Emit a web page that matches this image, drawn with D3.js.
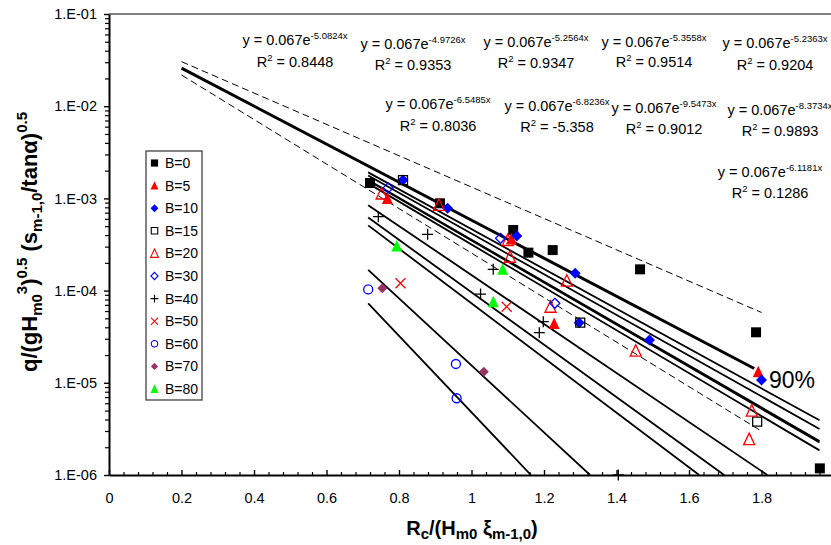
<!DOCTYPE html>
<html><head><meta charset="utf-8">
<script src="https://cdn.jsdelivr.net/npm/d3@7"></script>
<style>
body{margin:0;background:#fff}
svg{display:block}
text{font-family:Arial,"Liberation Sans",sans-serif;fill:#000}
</style>
</head><body>
<svg id="chart" width="831" height="545"></svg>
<script>
// ---------- data ----------
const xTickValues = [0, 0.2, 0.4, 0.6, 0.8, 1, 1.2, 1.4, 1.6, 1.8];
const xTickLabels = ["0", "0.2", "0.4", "0.6", "0.8", "1", "1.2", "1.4", "1.6", "1.8"];
const yTickValues = [1e-1, 1e-2, 1e-3, 1e-4, 1e-5, 1e-6];
const yTickLabels = ["1.E-01", "1.E-02", "1.E-03", "1.E-04", "1.E-05", "1.E-06"];

const seriesNames = ["B=0", "B=5", "B=10", "B=15", "B=20", "B=30", "B=40", "B=50", "B=60", "B=70", "B=80"];

const b0  = [[0.720,1.47e-3],[0.913,8.85e-4],[1.115,4.54e-4],[1.157,2.58e-4],[1.224,2.75e-4],[1.465,1.70e-4],[1.785,3.53e-5],[1.961,1.18e-6]];
const b5  = [[0.768,1.00e-3],[1.110,3.63e-4],[1.228,4.41e-5],[1.791,1.32e-5]];
const b10 = [[0.811,1.58e-3],[0.934,7.80e-4],[1.125,3.90e-4],[1.286,1.54e-4],[1.297,4.49e-5],[1.491,2.91e-5],[1.800,1.07e-5]];
const b15 = [[0.811,1.58e-3],[1.300,4.50e-5],[1.788,3.79e-6]];
const b20 = [[0.752,1.13e-3],[0.910,8.50e-4],[1.100,3.54e-4],[1.106,2.33e-4],[1.263,1.28e-4],[1.218,6.68e-5],[1.453,2.23e-5],[1.773,4.99e-6],[1.766,2.45e-6]];
const b30 = [[0.770,1.30e-3],[1.080,3.69e-4],[1.230,7.28e-5]];
const b40 = [[0.743,6.33e-4],[0.879,4.08e-4],[1.060,1.70e-4],[1.025,9.18e-5],[1.198,4.60e-5],[1.187,3.50e-5],[1.405,1.00e-6]];
const b50 = [[0.804,1.20e-4],[1.097,6.68e-5]];
const b60 = [[0.715,1.03e-4],[0.957,1.60e-5],[0.959,6.80e-6]];
const b70 = [[0.754,1.06e-4],[1.034,1.32e-5]];
const b80 = [[0.794,3.05e-4],[1.086,1.70e-4],[1.060,7.58e-5]];
const seriesData = [b0, b5, b10, b15, b20, b30, b40, b50, b60, b70, b80];

// fitted trend lines (one per B series), endpoints
const fitExponents = ["-5.0824x","-4.9726x","-5.2564x","-5.3558x","-5.2363x","-6.5485x","-6.8236x","-9.5473x","-8.3734x","-6.1181x"];
const fitR2       = ["0.8448","0.9353","0.9347","0.9514","0.9204","0.8036","-5.358","0.9012","0.9893","0.1286"];
const fitStartX = [0.715,0.715,0.715,0.715,0.715,0.715,0.715,0.715,0.715,0.715];
const fitStartY = [1.770e-3,1.915e-3,1.563e-3,1.456e-3,1.585e-3,6.20e-4,5.10e-4,7.27e-5,1.68e-4,8.44e-4];
const fitEndX   = [1.96,1.96,1.96,1.96,1.96,1.697,1.628,1.164,1.327,1.816];
const fitEndY   = [3.16e-6,3.92e-6,2.25e-6,1.85e-6,2.34e-6,1e-6,1e-6,1e-6,1e-6,1e-6];

// reference formula line and 90% band
const refX = [0.2, 1.78],  refY = [2.59e-2, 1.43e-5];
const upperX = [0.2, 1.8], upperY = [3.04e-2, 5.79e-5];
const lowerX = [0.2, 1.8], lowerY = [2.18e-2, 2.99e-6];

// ---------- layout / styles ----------
const W = 831, H = 545;
const svg = d3.select("#chart");
const x = d3.scaleLinear().domain([0, 2]).range([109, 834]);
const y = d3.scaleLog().domain([1e-6, 1e-1]).range([475, 14]);

const markerStyles = [
  {shape:"square",  fill:"#000",    stroke:"none", size:10},
  {shape:"triangle",fill:"#ff0000", stroke:"none", size:11},
  {shape:"diamond", fill:"#0000ff", stroke:"none", size:11},
  {shape:"square",  fill:"none",    stroke:"#000", size:9},
  {shape:"triangle",fill:"none",    stroke:"#ff0000", size:11},
  {shape:"diamond", fill:"none",    stroke:"#0000ff", size:10},
  {shape:"plus",    fill:"none",    stroke:"#000", size:11},
  {shape:"cross",   fill:"none",    stroke:"#ff0000", size:10},
  {shape:"circle",  fill:"none",    stroke:"#0000ff", size:9},
  {shape:"diamond", fill:"#993366", stroke:"none", size:10},
  {shape:"triangle",fill:"#00ff00", stroke:"none", size:11}
];

function shapePath(shape, s){
  const h = s/2;
  switch(shape){
    case "square": return `M${-h},${-h}H${h}V${h}H${-h}Z`;
    case "triangle": return `M0,${-h-0.5}L${h},${h}L${-h},${h}Z`;
    case "diamond": return `M0,${-h}L${h},0L0,${h}L${-h},0Z`;
    case "plus": return `M${-h},0H${h}M0,${-h}V${h}`;
    case "cross": return `M${-h},${-h}L${h},${h}M${h},${-h}L${-h},${h}`;
    case "circle": return `M${h},0A${h},${h} 0 1,1 ${-h},0A${h},${h} 0 1,1 ${h},0Z`;
  }
}

svg.append("defs").append("clipPath").attr("id","plotclip")
  .append("rect").attr("x",109).attr("y",14).attr("width",725).attr("height",461);

// top border of plot area
svg.append("line").attr("x1",x(0)).attr("x2",x(2)).attr("y1",y(1e-1)).attr("y2",y(1e-1))
  .attr("stroke","#808080").attr("stroke-width",2);

// ---------- axes ----------
const xMinor = d3.range(0, 2.001, 0.04).filter(v => Math.abs(v/0.2 - Math.round(v/0.2)) > 1e-6);
svg.append("g").attr("transform",`translate(0,${y(1e-6)})`)
  .call(d3.axisBottom(x).tickValues(xMinor).tickSize(-3).tickFormat(""))
  .call(g => g.select(".domain").remove())
  .call(g => g.selectAll("line").attr("stroke","#000").attr("stroke-width",1.2));
const yMinor = [];
for (let e = -6; e < -1; e++) for (let k = 2; k <= 9; k++) yMinor.push(k*Math.pow(10,e));
svg.append("g").attr("transform",`translate(${x(0)},0)`)
  .call(d3.axisLeft(y).tickValues(yMinor).tickSize(4).tickFormat(""))
  .call(g => g.select(".domain").remove())
  .call(g => g.selectAll("line").attr("stroke","#000").attr("stroke-width",1.2));

const xAxis = svg.append("g").attr("transform",`translate(0,${y(1e-6)})`)
  .call(d3.axisBottom(x).tickValues(xTickValues).tickSize(-5).tickSizeOuter(0).tickPadding(18)
        .tickFormat((d,i) => xTickLabels[i]));
xAxis.select(".domain").attr("stroke","#000").attr("stroke-width",2);
xAxis.selectAll("line").attr("stroke","#000").attr("stroke-width",1.4);
xAxis.selectAll("text").attr("font-size","14.5px").attr("fill","#000")
  .style("font-family","Arial, 'Liberation Sans', sans-serif");

const yAxis = svg.append("g").attr("transform",`translate(${x(0)},0)`)
  .call(d3.axisLeft(y).tickValues(yTickValues).tickSize(5).tickSizeOuter(0).tickPadding(7)
        .tickFormat((d,i) => yTickLabels[i]));
yAxis.select(".domain").attr("stroke","#000").attr("stroke-width",2);
yAxis.selectAll("line").attr("stroke","#000").attr("stroke-width",1.4);
yAxis.selectAll("text").attr("font-size","14.5px").attr("fill","#000")
  .style("font-family","Arial, 'Liberation Sans', sans-serif");

// ---------- lines ----------
const lineGen = d3.line().x(d => x(d[0])).y(d => y(d[1]));
const plot = svg.append("g").attr("clip-path","url(#plotclip)");

fitStartX.forEach((x0, i) => {
  plot.append("path")
    .attr("d", lineGen([[x0, fitStartY[i]], [fitEndX[i], fitEndY[i]]]))
    .attr("fill","none").attr("stroke","#000").attr("stroke-width",1.8);
});
plot.append("path").attr("d", lineGen(d3.zip(upperX, upperY)))
  .attr("fill","none").attr("stroke","#000").attr("stroke-width",1).attr("stroke-dasharray","7,4");
plot.append("path").attr("d", lineGen(d3.zip(lowerX, lowerY)))
  .attr("fill","none").attr("stroke","#000").attr("stroke-width",1).attr("stroke-dasharray","7,4");
plot.append("path").attr("d", lineGen(d3.zip(refX, refY)))
  .attr("fill","none").attr("stroke","#000").attr("stroke-width",3);

// ---------- points ----------
seriesData.forEach((pts, i) => {
  const st = markerStyles[i];
  svg.append("g").selectAll("path").data(pts).join("path")
    .attr("transform", d => `translate(${x(d[0])},${y(d[1])})`)
    .attr("d", shapePath(st.shape, st.size))
    .attr("fill", st.fill).attr("stroke", st.stroke).attr("stroke-width", 1.3);
});

// ---------- equation labels ----------
const eqLayout = [
  [295, 45, 67], [413, 49, 70], [536, 47, 68], [654, 47, 67], [775, 48, 70],
  [438, 109, 131], [557, 111, 132], [664, 113, 134], [780, 115, 136], [770, 177, 198]
];
fitExponents.forEach((ex, i) => {
  const [cx, ey, ry] = eqLayout[i];
  const t1 = svg.append("text").attr("x", cx).attr("y", ey).attr("text-anchor","middle").attr("font-size","14.5px");
  t1.append("tspan").text("y = 0.067e");
  t1.append("tspan").attr("dy",-6).attr("font-size","9.5px").text(ex);
  const t2 = svg.append("text").attr("x", cx).attr("y", ry).attr("text-anchor","middle").attr("font-size","14.5px");
  t2.append("tspan").text("R");
  t2.append("tspan").attr("dy",-6).attr("font-size","9.5px").text("2");
  t2.append("tspan").attr("dy",6).text(" = " + fitR2[i]);
});

svg.append("text").attr("x",769).attr("y",388).attr("font-size","23px").text("90%");

// ---------- legend ----------
svg.append("rect").attr("x",146).attr("y",151).attr("width",56).attr("height",249)
  .attr("fill","#fff").attr("stroke","#333").attr("stroke-width",1.2);
seriesNames.forEach((name, i) => {
  const st = markerStyles[i];
  const ly = 163 + i*22.6;
  svg.append("path").attr("transform",`translate(154.5,${ly})`)
    .attr("d", shapePath(st.shape, st.size*0.72))
    .attr("fill", st.fill).attr("stroke", st.stroke).attr("stroke-width", 1.1);
  svg.append("text").attr("x",165).attr("y",ly+5).attr("font-size","14px").text(name);
});

// ---------- axis titles ----------
const xt = svg.append("text").attr("x",472).attr("y",535).attr("text-anchor","middle")
  .attr("font-size","20px").attr("font-weight","bold");
xt.append("tspan").text("R");
xt.append("tspan").attr("dy",4).attr("font-size","15px").text("c");
xt.append("tspan").attr("dy",-4).text("/(H");
xt.append("tspan").attr("dy",4).attr("font-size","15px").text("m0");
xt.append("tspan").attr("dy",-4).text(" ξ");
xt.append("tspan").attr("dy",4).attr("font-size","15px").text("m-1,0");
xt.append("tspan").attr("dy",-4).text(")");

const yt = svg.append("text").attr("transform","translate(37,242) rotate(-90)").attr("text-anchor","middle")
  .attr("font-size","22px").attr("font-weight","bold");
yt.append("tspan").text("q/(gH");
yt.append("tspan").attr("dy",5).attr("font-size","15px").text("m0");
yt.append("tspan").attr("dy",-15).attr("font-size","15px").text("3");
yt.append("tspan").attr("dy",10).text(")");
yt.append("tspan").attr("dy",-10).attr("font-size","15px").text("0.5");
yt.append("tspan").attr("dy",10).text(" (s");
yt.append("tspan").attr("dy",5).attr("font-size","15px").text("m-1,0");
yt.append("tspan").attr("dy",-5).text("/tanα)");
yt.append("tspan").attr("dy",-10).attr("font-size","15px").text("0.5");
</script>
</body></html>
